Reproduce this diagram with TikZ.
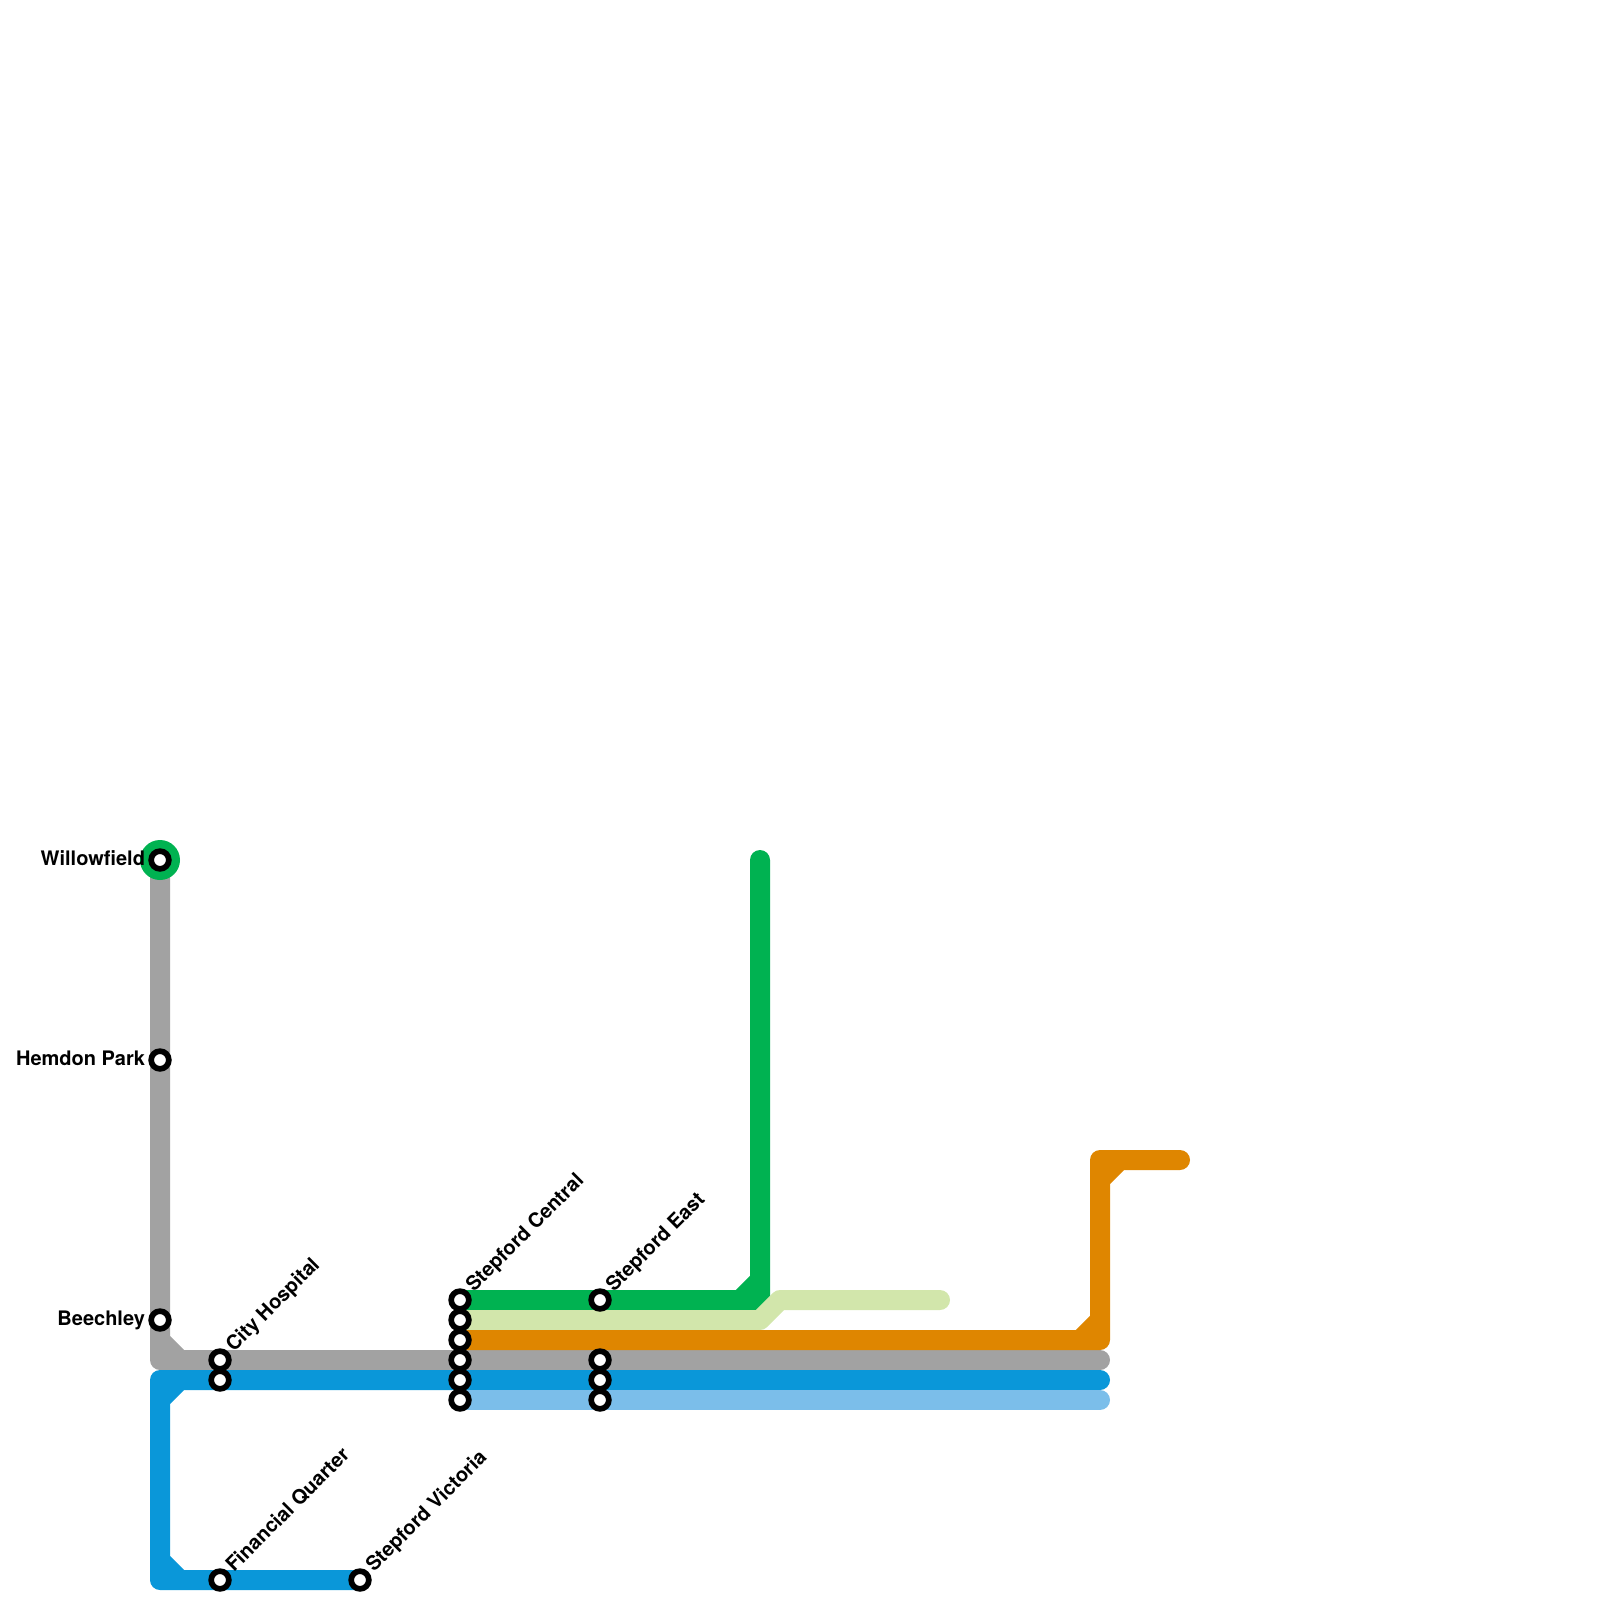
\documentclass[tikz,border=0pt]{standalone}
\usepackage{fontspec}
\setmainfont{TeX Gyre Heros}
\definecolor{LineGrey}{HTML}{A2A2A2}
\definecolor{LineBlue}{HTML}{0A97D9}
\definecolor{LineSky}{HTML}{7BBEEA}
\definecolor{LineGreen}{HTML}{00B251}
\definecolor{LinePale}{HTML}{D2E6AB}
\definecolor{LineOrange}{HTML}{DF8600}
\begin{document}
\begin{tikzpicture}[x=0.36bp, y=-0.36bp, every node/.style={font=\fontsize{7.23pt}{8.6pt}\bfseries\selectfont}]
\tikzset{metroline/.style={line width=7.2bp, line cap=round, line join=round}}
\tikzset{halt/.style={draw=black, fill=white, circle, line width=2.05bp, minimum size=6.37bp, inner sep=0pt}}
\tikzset{sidename/.style={anchor=base east, xshift=-5.2bp, yshift=-2bp, inner sep=0pt}}
\tikzset{tiltname/.style={anchor=base west, xshift=4.9bp, yshift=2.5bp, rotate=45, inner sep=0pt}}
\useasboundingbox (0,0) rectangle (1600,1600);
% corners and line ends
\coordinate (greyTurn) at (160,1360);
\coordinate (greyCutA) at (160,1340);
\coordinate (greyCutB) at (180,1360);
\coordinate (greyEnd) at (1100,1360);
\coordinate (blueEnd) at (1100,1380);
\coordinate (blueTurnA) at (160,1380);
\coordinate (blueTurnB) at (160,1580);
\coordinate (blueCutA) at (160,1400);
\coordinate (blueCutB) at (180,1380);
\coordinate (blueCutC) at (160,1560);
\coordinate (blueCutD) at (180,1580);
\coordinate (skyEnd) at (1100,1400);
\coordinate (greenTurn) at (760,1300);
\coordinate (greenTop) at (760,860);
\coordinate (greenCutA) at (740,1300);
\coordinate (greenCutB) at (760,1280);
\coordinate (paleTurnA) at (760,1320);
\coordinate (paleTurnB) at (780,1300);
\coordinate (paleEnd) at (940,1300);
\coordinate (orangeTurnA) at (1100,1340);
\coordinate (orangeTurnB) at (1100,1160);
\coordinate (orangeEnd) at (1180,1160);
\coordinate (orangeCutA) at (1080,1340);
\coordinate (orangeCutB) at (1100,1320);
\coordinate (orangeCutC) at (1100,1180);
\coordinate (orangeCutD) at (1120,1160);
% stations
\coordinate (willow) at (160,860);
\coordinate (hemdon) at (160,1060);
\coordinate (beech) at (160,1320);
\coordinate (cityA) at (220,1360);
\coordinate (cityB) at (220,1380);
\coordinate (fin) at (220,1580);
\coordinate (vic) at (360,1580);
\coordinate (centralA) at (460,1300);
\coordinate (centralB) at (460,1320);
\coordinate (centralC) at (460,1340);
\coordinate (centralD) at (460,1360);
\coordinate (centralE) at (460,1380);
\coordinate (centralF) at (460,1400);
\coordinate (eastA) at (600,1300);
\coordinate (eastB) at (600,1360);
\coordinate (eastC) at (600,1380);
\coordinate (eastD) at (600,1400);
% lines
\draw[metroline, LineGrey] (willow) -- (greyTurn) -- (greyEnd) (greyCutA) -- (greyCutB);
\draw[metroline, LineBlue] (blueEnd) -- (blueTurnA) -- (blueTurnB) -- (vic) (blueCutA) -- (blueCutB) (blueCutC) -- (blueCutD);
\draw[metroline, LineSky] (centralF) -- (skyEnd);
\draw[metroline, LineGreen] (centralA) -- (greenTurn) -- (greenTop) (greenCutA) -- (greenCutB);
\draw[metroline, LinePale] (centralB) -- (paleTurnA) -- (paleTurnB) -- (paleEnd);
\draw[metroline, LineOrange] (centralC) -- (orangeTurnA) -- (orangeTurnB) -- (orangeEnd) (orangeCutA) -- (orangeCutB) (orangeCutC) -- (orangeCutD);
\node[circle, fill=LineGreen, minimum size=14.4bp, inner sep=0pt] (willowHalo) at (willow) {};
% station markers
\node[halt] (stWillow) at (willow) {};
\node[halt] (stHemdon) at (hemdon) {};
\node[halt] (stBeech) at (beech) {};
\node[halt] (stCityA) at (cityA) {};
\node[halt] (stCityB) at (cityB) {};
\node[halt] (stFin) at (fin) {};
\node[halt] (stVic) at (vic) {};
\node[halt] (stCentralA) at (centralA) {};
\node[halt] (stCentralB) at (centralB) {};
\node[halt] (stCentralC) at (centralC) {};
\node[halt] (stCentralD) at (centralD) {};
\node[halt] (stCentralE) at (centralE) {};
\node[halt] (stCentralF) at (centralF) {};
\node[halt] (stEastA) at (eastA) {};
\node[halt] (stEastB) at (eastB) {};
\node[halt] (stEastC) at (eastC) {};
\node[halt] (stEastD) at (eastD) {};
% names
\node[sidename] (nameWillow) at (willow) {Willowfield};
\node[sidename] (nameHemdon) at (hemdon) {Hemdon Park};
\node[sidename] (nameBeech) at (beech) {Beechley};
\node[tiltname] (nameCity) at (cityA) {City Hospital};
\node[tiltname] (nameFin) at (fin) {Financial Quarter};
\node[tiltname] (nameVic) at (vic) {Stepford Victoria};
\node[tiltname] (nameCentral) at (centralA) {Stepford Central};
\node[tiltname] (nameEast) at (eastA) {Stepford East};
\end{tikzpicture}
\end{document}
